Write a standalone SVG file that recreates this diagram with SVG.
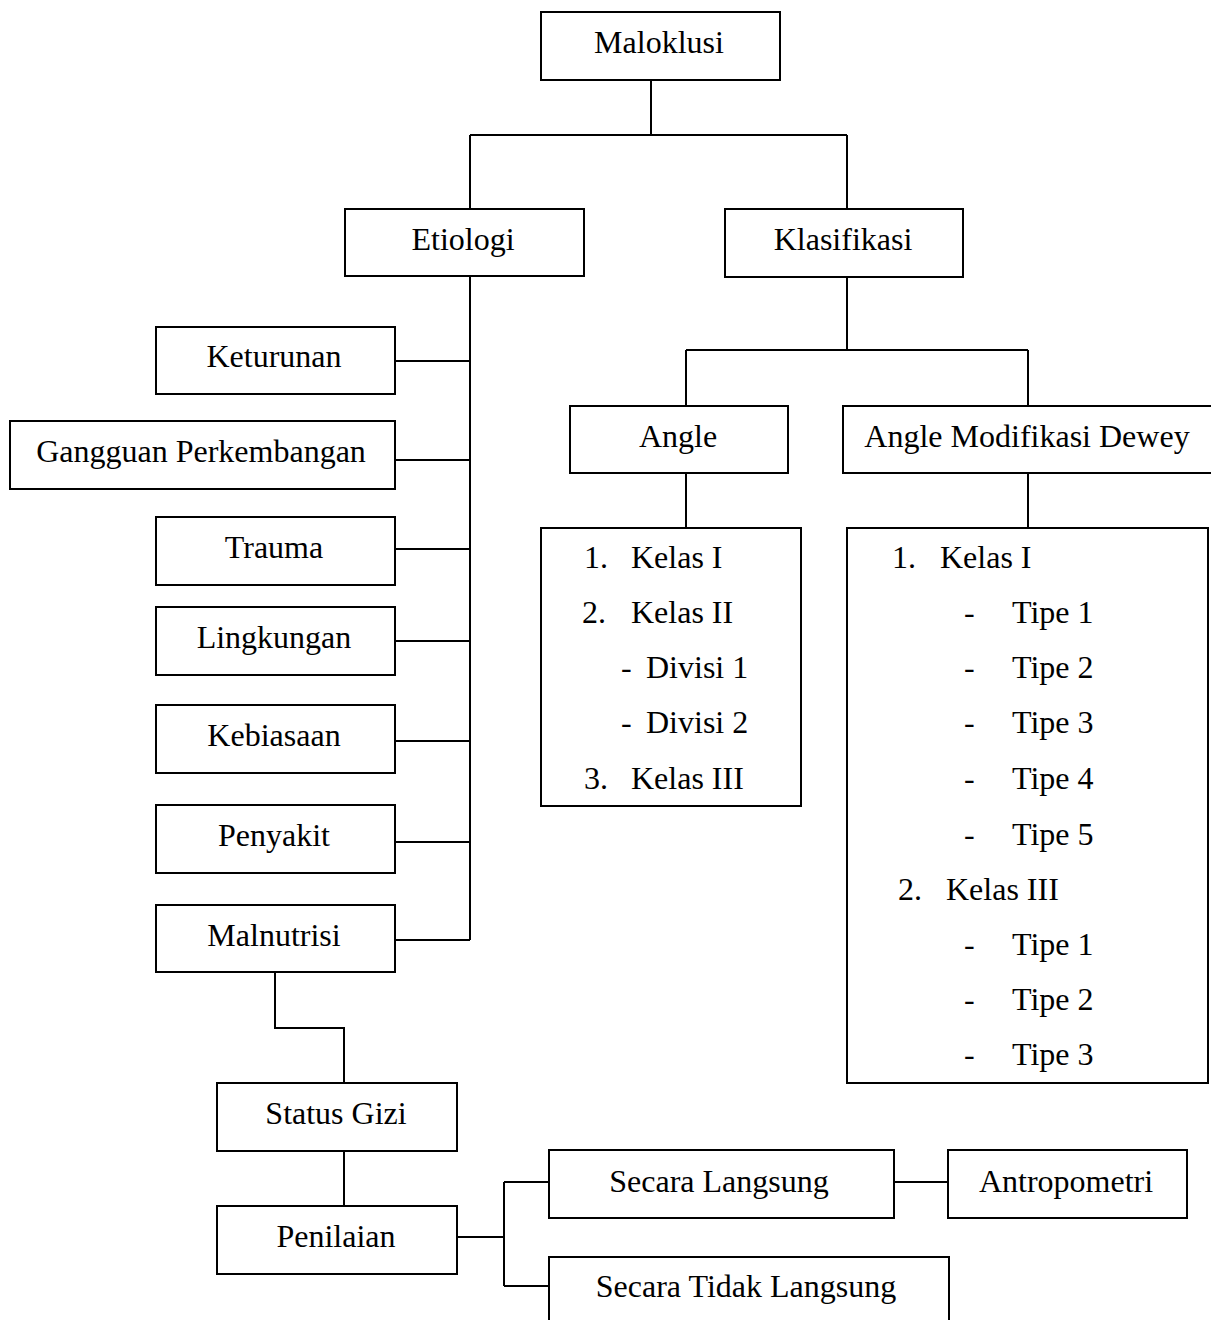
<svg xmlns="http://www.w3.org/2000/svg" width="1211" height="1320" viewBox="0 0 1211 1320">
<style>
rect{fill:#fff;stroke:#000;stroke-width:2}
.c path{fill:none;stroke:#000;stroke-width:2}
text{font-family:"Liberation Serif","Times New Roman",serif;font-size:32px;fill:#000}
.m{text-anchor:middle}
</style>
<rect x="0" y="0" width="1211" height="1320" style="stroke:none"/>
<g class="c" id="connectors">
<path d="M651 80V135M470 135H847M470 135V209M847 135V209"/>
<path d="M470 276V940M395 361H470M395 460H470M395 549H470M395 641H470M395 741H470M395 842H470M395 940H470"/>
<path d="M847 277V350M686 350H1028M686 350V406M1028 350V406"/>
<path d="M686 473V528M1028 473V528"/>
<path d="M275 972V1028H344V1083M344 1151V1206"/>
<path d="M457 1237H504M504 1182V1286M504 1182H549M504 1286H549M894 1182H948"/>
</g>
<g id="maloklusi"><rect x="541" y="12" width="239" height="68"/><text class="m" x="659" y="53">Maloklusi</text></g>
<g id="etiologi"><rect x="345" y="209" width="239" height="67"/><text class="m" x="463" y="250">Etiologi</text></g>
<g id="klasifikasi"><rect x="725" y="209" width="238" height="68"/><text class="m" x="843" y="250">Klasifikasi</text></g>
<g id="keturunan"><rect x="156" y="327" width="239" height="67"/><text class="m" x="274" y="367">Keturunan</text></g>
<g id="gangguan"><rect x="10" y="421" width="385" height="68"/><text class="m" x="201" y="462">Gangguan Perkembangan</text></g>
<g id="trauma"><rect x="156" y="517" width="239" height="68"/><text class="m" x="274" y="558">Trauma</text></g>
<g id="lingkungan"><rect x="156" y="607" width="239" height="68"/><text class="m" x="274" y="648">Lingkungan</text></g>
<g id="kebiasaan"><rect x="156" y="705" width="239" height="68"/><text class="m" x="274" y="746">Kebiasaan</text></g>
<g id="penyakit"><rect x="156" y="805" width="239" height="68"/><text class="m" x="274" y="846">Penyakit</text></g>
<g id="malnutrisi"><rect x="156" y="905" width="239" height="67"/><text class="m" x="274" y="946">Malnutrisi</text></g>
<g id="angle"><rect x="570" y="406" width="218" height="67"/><text class="m" x="678" y="447">Angle</text></g>
<g id="angle-dewey"><rect x="843" y="406" width="380" height="67"/><text class="m" x="1027" y="447">Angle Modifikasi Dewey</text></g>
<g id="angle-list"><rect x="541" y="528" width="260" height="278"/>
<text x="584" y="568">1.</text><text x="631" y="568">Kelas I</text>
<text x="582" y="623">2.</text><text x="631" y="623">Kelas II</text>
<text x="621" y="678">-</text><text x="646" y="678">Divisi 1</text>
<text x="621" y="733">-</text><text x="646" y="733">Divisi 2</text>
<text x="584" y="789">3.</text><text x="631" y="789">Kelas III</text>
</g>
<g id="dewey-list"><rect x="847" y="528" width="361" height="555"/>
<text x="892" y="568">1.</text><text x="940" y="568">Kelas I</text>
<text x="964" y="623">-</text><text x="1012" y="623">Tipe 1</text>
<text x="964" y="678">-</text><text x="1012" y="678">Tipe 2</text>
<text x="964" y="733">-</text><text x="1012" y="733">Tipe 3</text>
<text x="964" y="789">-</text><text x="1012" y="789">Tipe 4</text>
<text x="964" y="845">-</text><text x="1012" y="845">Tipe 5</text>
<text x="898" y="900">2.</text><text x="946" y="900">Kelas III</text>
<text x="964" y="955">-</text><text x="1012" y="955">Tipe 1</text>
<text x="964" y="1010">-</text><text x="1012" y="1010">Tipe 2</text>
<text x="964" y="1065">-</text><text x="1012" y="1065">Tipe 3</text>
</g>
<g id="status-gizi"><rect x="217" y="1083" width="240" height="68"/><text class="m" x="336" y="1124">Status Gizi</text></g>
<g id="penilaian"><rect x="217" y="1206" width="240" height="68"/><text class="m" x="336" y="1247">Penilaian</text></g>
<g id="secara-langsung"><rect x="549" y="1150" width="345" height="68"/><text class="m" x="719" y="1192">Secara Langsung</text></g>
<g id="antropometri"><rect x="948" y="1150" width="239" height="68"/><text class="m" x="1066" y="1192">Antropometri</text></g>
<g id="secara-tidak-langsung"><rect x="549" y="1257" width="400" height="80"/><text class="m" x="746" y="1297">Secara Tidak Langsung</text></g>
</svg>
